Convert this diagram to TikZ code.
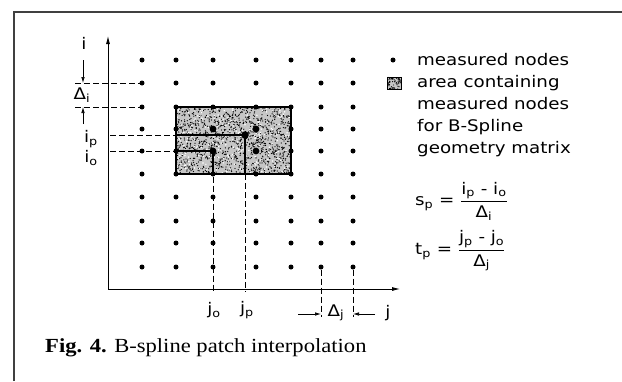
\documentclass[tikz,border=0pt]{standalone}
\usepackage{amsmath}
\usepackage{fontspec}
\setmainfont[FakeStretch=1.14]{DejaVu Sans}
\newfontfamily\capfont[FakeStretch=1.13]{Liberation Serif}
\usetikzlibrary{calc,arrows.meta}
\tikzset{%
  >={Latex[length=8pt,width=4pt]}, % axis arrows
  dim tip/.style={-{Latex[length=6pt,width=3.5pt]},line width=0.7pt},
  grid node/.style={circle,fill=black,inner sep=0pt,outer sep=0pt,minimum size=5pt},
  big node/.style={circle,fill=black,inner sep=0pt,outer sep=0pt,minimum size=6.8pt},
  hidden line/.style={dash pattern=on 6pt off 3pt,line width=0.8pt},
  patch edge/.style={line width=1.4pt},
  lbl/.style={inner sep=0pt,font=\fontsize{16}{19}\selectfont}%
}

\begin{document}
\begin{tikzpicture}[x=1pt,y=-1pt]
    \useasboundingbox (0,0) rectangle (622,381);
    % frame of the figure
    \coordinate (F0) at (14,381);
    \coordinate (F1) at (14,12);
    \coordinate (F2) at (622,12);
    \draw[line width=1.2pt,black!75] (F0) -- (F1) -- (F2);

    % axes
    \coordinate (O) at (108,289);
    \coordinate (Itop) at (108,36);
    \coordinate (Jend) at (400,289);
    \draw[line width=0.8pt,->] (O) -- (Itop);
    \draw[line width=0.8pt,->] (O) -- (Jend);

    % area for the geometry matrix
    \coordinate (A) at (176,107);
    \coordinate (B) at (291,174);
    \fill[gray!45] (A) rectangle (B);
    \pgfmathsetseed{11}
    \foreach \k in {1,...,1300}{
      \pgfmathsetmacro\rx{176+115*rnd}
      \pgfmathsetmacro\ry{107+67*rnd}
      \fill (\rx,\ry) circle (0.65);
    }
    \foreach \k in {1,...,250}{
      \pgfmathsetmacro\rx{177+113*rnd}
      \pgfmathsetmacro\ry{108+65*rnd}
      \fill[white] (\rx,\ry) circle (0.8);
    }
    \draw[patch edge] (A) rectangle (B);

    % measured nodes
    \foreach \x [count=\c] in {142,176,213,256,291,321,353}
      \foreach \y [count=\r] in {60,83,107,129,151,174,197,221,243,267}
        \node[grid node] (n-\c-\r) at (\x,\y) {};
    \foreach \c/\r in {3/4,4/4,3/5,4/5}
      \node[big node] (b-\c-\r) at (n-\c-\r) {};

    % interpolated point
    \coordinate (P) at (245,135);
    \coordinate (ipA) at (110,135);
    \coordinate (ipB) at (176,135);
    \coordinate (ioA) at (110,151);
    \coordinate (jpB) at (245,174);
    \coordinate (joE) at (213,292);
    \coordinate (jpE) at (245,292);
    \draw[hidden line] (ipA) -- (ipB);
    \draw[hidden line] (ioA) -- (n-2-5);
    \draw[line width=2pt] (ipB) -- (P) -- (jpB);
    \draw[line width=2pt] (n-2-5.center) -- (n-3-5.center) -- (n-3-6.center);
    \draw[hidden line] (n-3-6) -- (joE);
    \draw[hidden line] (jpB) -- (jpE);
    \node[big node,minimum size=7.5pt] (Pn) at (P) {};

    % spacing Delta i
    \coordinate (di1) at (75,83);
    \coordinate (di2) at (75,107);
    \draw[hidden line] (di1) -- (n-1-2);
    \draw[hidden line] (di2) -- (n-1-3);
    \coordinate (dia) at (83,60);
    \coordinate (dib) at (83,83);
    \coordinate (dic) at (83,124);
    \coordinate (did) at (83,107);
    \draw[dim tip] (dia) -- (dib);
    \draw[dim tip] (dic) -- (did);

    % spacing Delta j
    \coordinate (dj1) at (321,317);
    \coordinate (dj2) at (353,317);
    \draw[hidden line] (n-6-10) -- (dj1);
    \draw[hidden line] (n-7-10) -- (dj2);
    \coordinate (dja) at (298,314);
    \coordinate (djb) at (321,314);
    \coordinate (djc) at (375,314);
    \coordinate (djd) at (353,314);
    \draw[dim tip] (dja) -- (djb);
    \draw[dim tip] (djc) -- (djd);

    % axis labels
    \node[lbl] (lab-i) at (84,43) {i};
    \node[lbl] (lab-di) at (82,95) {Δ\textsubscript{i}};
    \node[lbl] (lab-ip) at (91,139) {i\textsubscript{p}};
    \node[lbl] (lab-io) at (91,158) {i\textsubscript{o}};
    \node[lbl] (lab-jo) at (214,310) {j\textsubscript{o}};
    \node[lbl] (lab-jp) at (247,310) {j\textsubscript{p}};
    \node[lbl] (lab-dj) at (336,313) {Δ\textsubscript{j}};
    \node[lbl] (lab-j) at (388,313) {j};

    % legend
    \node[grid node] (leg-dot) at (393,60) {};
    \coordinate (S1) at (387,77);
    \coordinate (S2) at (401,89);
    \fill[gray!45] (S1) rectangle (S2);
    \foreach \k in {1,...,60}{
      \pgfmathsetmacro\rx{387+14*rnd}
      \pgfmathsetmacro\ry{77+12*rnd}
      \fill (\rx,\ry) circle (0.6);
    }
    \draw[line width=1pt] (S1) rectangle (S2);
    \foreach \t [count=\k] in {measured nodes,area containing,measured nodes,for B-Spline,geometry matrix}
      \node[lbl,anchor=base west] (leg-\k) at (417,43+22*\k) {\t};

    % parameters of the point
    \node[lbl,anchor=west] (sp) at (415,201)
      {s\textsubscript{p} = $\dfrac{\text{i\textsubscript{p} - i\textsubscript{o}}}{\text{Δ\textsubscript{i}}}$};
    \node[lbl,anchor=west] (tp) at (415,251)
      {t\textsubscript{p} = $\dfrac{\text{j\textsubscript{p} - j\textsubscript{o}}}{\text{Δ\textsubscript{j}}}$};

    % caption
    \node[anchor=base west,inner sep=0pt,font=\capfont\fontsize{20}{23}\selectfont] (cap) at (45,352)
      {\textbf{Fig. 4.} B-spline patch interpolation};
\end{tikzpicture}
\end{document}
